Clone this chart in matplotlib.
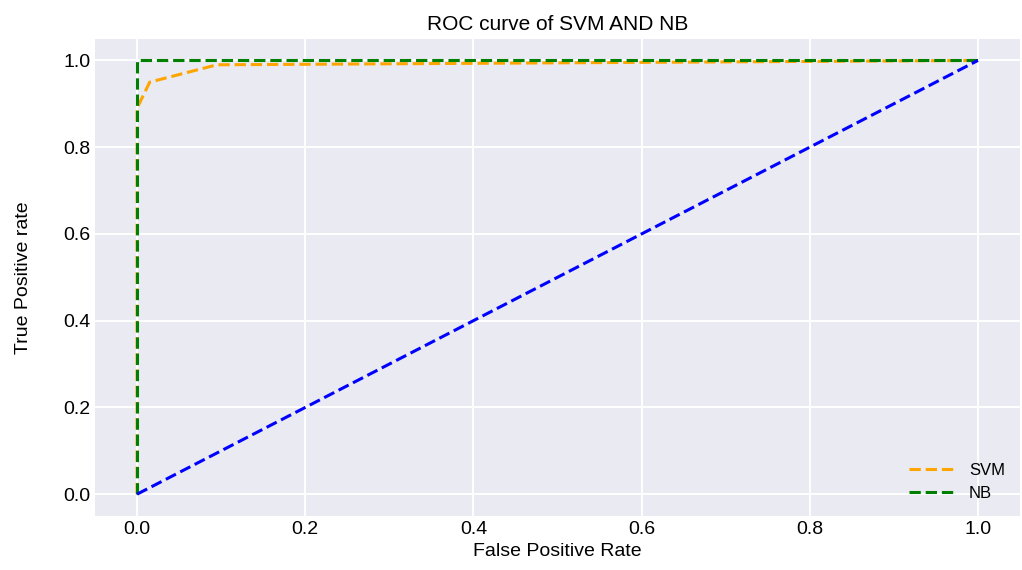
import matplotlib
matplotlib.use('Agg')
import matplotlib.pyplot as plt

# ROC points
svm_fpr = [0.0, 0.0, 0.015, 0.095, 1.0]
svm_tpr = [0.0, 0.89, 0.95, 0.99, 1.0]
nb_fpr = [0.0, 0.0, 1.0]
nb_tpr = [0.0, 1.0, 1.0]
diag = [0.0, 1.0]

plt.style.use('seaborn-v0_8-darkgrid')
plt.rcParams['font.family'] = ['Liberation Sans', 'DejaVu Sans']
plt.rcParams['text.color'] = 'black'
plt.rcParams['axes.labelcolor'] = 'black'
plt.rcParams['xtick.color'] = 'black'
plt.rcParams['ytick.color'] = 'black'
plt.rcParams['grid.linewidth'] = 1.4

fig = plt.figure(figsize=(10.22, 5.70), dpi=100)
ax = fig.add_subplot(111)
fig.subplots_adjust(left=0.093, right=0.998, bottom=0.095, top=0.932)

ax.plot(svm_fpr, svm_tpr, linestyle='--', color='orange', linewidth=2.2, label='SVM')
ax.plot(nb_fpr, nb_tpr, linestyle='--', color='green', linewidth=2.2, label='NB')
ax.plot(diag, diag, linestyle='--', color='blue', linewidth=2.2)

ax.set_title('ROC curve of SVM AND NB', fontsize=15)
ax.set_xlabel('False Positive Rate', fontsize=14)
ax.set_ylabel('True Positive rate', fontsize=14, labelpad=22)
ax.tick_params(labelsize=14)
ax.legend(loc='lower right', fontsize=12, handlelength=2.8)

plt.savefig('out.png', dpi=100)
